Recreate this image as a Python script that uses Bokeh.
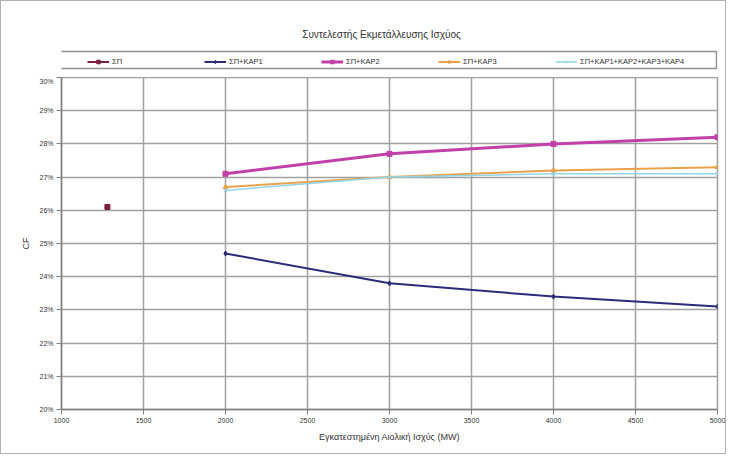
from bokeh.plotting import figure
from bokeh.layouts import column
from bokeh.models import (FixedTicker, NumeralTickFormatter, Range1d, Legend, LegendItem,
                          Label)
from bokeh.embed import file_html
from bokeh.resources import INLINE

title_text = "Συντελεστής Εκμετάλλευσης Ισχύος"
x_label = "Εγκατεστημένη Αιολική Ισχύς (MW)"
y_label = "CF"

series_names = ["ΣΠ", "ΣΠ+ΚΑΡ1", "ΣΠ+ΚΑΡ2", "ΣΠ+ΚΑΡ3", "ΣΠ+ΚΑΡ1+ΚΑΡ2+ΚΑΡ3+ΚΑΡ4"]
series_colors = ["#7a1f3d", "#2b2b78", "#c040a8", "#e8a24a", "#92d6ea"]
series_markers = ["square", "diamond", "square", "triangle", "x"]
series_widths = [2, 2, 3, 2, 1.5]

x_sp = [1280]
y_sp = [0.261]

x_mw = [2000, 3000, 4000, 5000]
y_kar1 = [0.247, 0.238, 0.234, 0.231]
y_kar2 = [0.271, 0.277, 0.280, 0.282]
y_kar3 = [0.267, 0.270, 0.272, 0.273]
y_all = [0.266, 0.270, 0.271, 0.271]

x_ticks = [1000, 1500, 2000, 2500, 3000, 3500, 4000, 4500, 5000]
y_ticks = [0.20, 0.21, 0.22, 0.23, 0.24, 0.25, 0.26, 0.27, 0.28, 0.29, 0.30]

FONT = "Liberation Sans"
W = 724
TOP_H = 76

# ---------- header: title + legend (frame aligned with main plot frame) ----------
top = figure(width=W, height=TOP_H, output_backend="svg", toolbar_location=None,
             x_range=Range1d(60, 716), y_range=Range1d(0, TOP_H),
             x_axis_type=None, y_axis_type=None,
             min_border_left=0, min_border_right=0, min_border_top=0, min_border_bottom=0)
top.grid.visible = False
top.outline_line_color = None

top.add_layout(Label(x=380, y=TOP_H - 33, text=title_text, text_align="center",
                     text_baseline="middle", text_font=FONT, text_font_size="10px",
                     text_color="#333333"))

# legend box
top.quad(left=[57], right=[715], bottom=[9], top=[26], fill_color="white",
         line_color="#909090", line_width=1.5)

items = []
for name, c, mk, lw in zip(series_names, series_colors, series_markers, series_widths):
    rl = top.line([None], [None], line_color=c, line_width=lw)
    rm = top.scatter([None], [None], marker=mk, size=5, color=c)
    items.append(LegendItem(label=name, renderers=[rl, rm], index=0))

legend = Legend(items=items, orientation="horizontal", location=(26, 11))
legend.label_text_font = FONT
legend.label_text_font_size = "7.5px"
legend.label_text_color = "#333333"
legend.glyph_width = 22
legend.glyph_height = 9
legend.label_standoff = 3
legend.label_width = 92
legend.label_height = 9
legend.spacing = 0
legend.padding = 1
legend.margin = 0
legend.border_line_color = None
legend.background_fill_alpha = 0
top.add_layout(legend, "center")

# ---------- main plot ----------
p = figure(width=W, height=376, output_backend="svg", toolbar_location=None,
           x_range=Range1d(1000, 5000), y_range=Range1d(0.20, 0.30),
           min_border_left=60, min_border_right=8, min_border_top=0, min_border_bottom=44)

p.xaxis.ticker = FixedTicker(ticks=x_ticks)
p.yaxis.ticker = FixedTicker(ticks=y_ticks)
p.yaxis.formatter = NumeralTickFormatter(format="0%")
p.xaxis.axis_label = x_label
p.yaxis.axis_label = y_label
for ax in (p.xaxis, p.yaxis):
    ax.axis_label_text_font = FONT
    ax.axis_label_text_font_size = "9px"
    ax.axis_label_text_font_style = "normal"
    ax.axis_label_text_color = "#333333"
    ax.major_label_text_font = FONT
    ax.major_label_text_font_size = "7px"
    ax.major_label_text_color = "#333333"
    ax.axis_line_color = "#808080"
    ax.axis_line_width = 1.5
    ax.major_tick_line_color = "#808080"
    ax.major_tick_in = 0
    ax.major_tick_out = 5
    ax.major_label_standoff = 3
    ax.minor_tick_line_color = None
p.xaxis.axis_label_standoff = 6
p.yaxis.axis_label_standoff = 5

p.xgrid.grid_line_color = "#a0a0a0"
p.ygrid.grid_line_color = "#a0a0a0"
p.xgrid.grid_line_width = 1.5
p.ygrid.grid_line_width = 1.5
p.outline_line_color = "#a0a0a0"
p.outline_line_width = 1.5

p.scatter(x_sp, y_sp, marker=series_markers[0], size=5, color=series_colors[0])

for ys, c, mk, lw in zip([y_kar1, y_kar2, y_kar3, y_all], series_colors[1:],
                         series_markers[1:], series_widths[1:]):
    p.line(x_mw, ys, line_color=c, line_width=lw)
    p.scatter(x_mw, ys, marker=mk, size=5, color=c)

layout = column(top, p, spacing=0)
layout.styles = {"border": "1px solid #b0b0b0"}

open("out.html", "w").write(file_html(layout, INLINE))
